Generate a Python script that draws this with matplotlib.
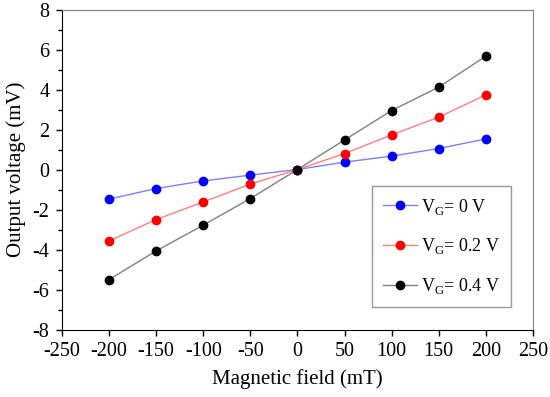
import matplotlib
matplotlib.use("Agg")
import matplotlib.pyplot as plt
from matplotlib.ticker import MultipleLocator

plt.rcParams["font.family"] = ["Liberation Serif", "DejaVu Serif"]
plt.rcParams["mathtext.fontset"] = "custom"
plt.rcParams["mathtext.rm"] = "Liberation Serif"
plt.rcParams["axes.unicode_minus"] = False

field = [-200, -150, -100, -50, 0, 50, 100, 150, 200]
v_0 = [-1.48, -0.95, -0.57, -0.28, 0.0, 0.37, 0.67, 1.05, 1.53]
v_02 = [-3.57, -2.5, -1.62, -0.73, 0.0, 0.8, 1.73, 2.62, 3.73]
v_04 = [-5.5, -4.07, -2.78, -1.45, 0.0, 1.48, 2.95, 4.12, 5.67]
labels = [r"V$_\mathrm{G}$= 0 V", r"V$_\mathrm{G}$= 0.2 V", r"V$_\mathrm{G}$= 0.4 V"]
line_colors = ["#7f7fff", "#ff8080", "#808080"]
marker_colors = ["#0000ff", "#ff0000", "#000000"]

fig = plt.figure(figsize=(5.5, 3.97), dpi=100)
ax = fig.add_axes([0.1127, 0.170, 0.8563, 0.806])

for vals, lc, mc, lab in zip([v_0, v_02, v_04], line_colors, marker_colors, labels):
    ax.plot(field, vals, color=lc, lw=1.0, marker="o", ms=6,
            markerfacecolor=mc, markeredgecolor=mc, label=lab)

ax.set_xlim(-250, 250)
ax.set_ylim(-8, 8)
ax.xaxis.set_major_locator(MultipleLocator(50))
ax.yaxis.set_major_locator(MultipleLocator(2))
ax.yaxis.set_minor_locator(MultipleLocator(1))
ax.tick_params(axis="both", which="major", direction="out", length=4, width=1,
               labelsize=14.5, pad=5)
ax.tick_params(axis="y", which="minor", direction="out", length=3, width=1)
ax.tick_params(top=False, right=False)

for side in ["left", "bottom"]:
    ax.spines[side].set_color("black")
for side in ["top", "right"]:
    ax.spines[side].set_color("#808080")

ax.set_xlabel("Magnetic field (mT)", fontsize=15, labelpad=6)
ax.set_ylabel("Output voltage (mV)", fontsize=15, labelpad=5)

leg = ax.legend(loc="lower left", bbox_to_anchor=(0.658, 0.07), fontsize=13,
                frameon=True, fancybox=False, edgecolor="#808080",
                handlelength=1.9, labelspacing=1.1, borderpad=0.6,
                handletextpad=0.2, borderaxespad=0)
leg.get_frame().set_linewidth(1.0)

fig.savefig("out.png", dpi=100)
